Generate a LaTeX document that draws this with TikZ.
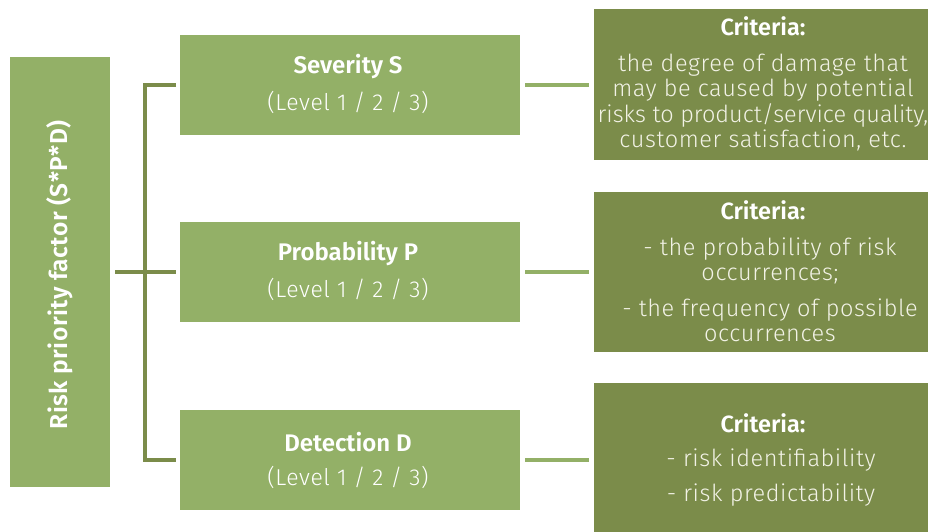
\documentclass[tikz,border=0pt]{standalone}
\usepackage{fontspec}
\setmainfont{Fira Sans Light}[BoldFont=Fira Sans SemiBold]
\newfontfamily\spacedlight{Fira Sans Light}[LetterSpace=2.5]
\newfontfamily\plainlight{Fira Sans Light}
\newfontfamily\spacedbold{Fira Sans SemiBold}[LetterSpace=2]
\definecolor{lgreen}{HTML}{93B067}
\definecolor{dgreen}{HTML}{7B8C4A}
\definecolor{paletext}{HTML}{F2F2E6}
\begin{document}
\begin{tikzpicture}[x=1pt,y=-1pt,
  lightbox/.style={fill=lgreen, draw=none, anchor=north west, inner sep=0pt},
  darkbox/.style={fill=dgreen, draw=none, anchor=north west, inner sep=0pt},
  boxtitle/.style={text=white, font=\bfseries\fontsize{24}{28}\selectfont},
  boxsub/.style={text=white, font=\spacedlight\fontsize{23}{28}\selectfont},
  crittitle/.style={text=white, font=\bfseries\fontsize{23.5}{28}\selectfont},
  critbody/.style={text=paletext, align=center, font=\spacedlight\fontsize{23.5}{25.5}\selectfont},
  bracket/.style={draw=dgreen, line width=4pt},
  link/.style={draw=lgreen, line width=4pt}]
\useasboundingbox (0,0) rectangle (928,532);
\fill[white] (0,0) rectangle (928,532);

% left: overall factor
\node[lightbox, minimum width=100pt, minimum height=430pt] (rpf) at (10,57) {};
\node[rotate=90, text=white, font=\spacedbold\fontsize{24.5}{28}\selectfont] (rpflabel) at (60,275) {Risk priority factor (S*P*D)};

% middle: the three factors
\node[lightbox, minimum width=340pt, minimum height=100pt] (sev) at (180,35) {};
\node[lightbox, minimum width=340pt, minimum height=100pt] (prob) at (180,222) {};
\node[lightbox, minimum width=340pt, minimum height=100pt] (det) at (180,410) {};
\node[boxtitle] (sevt) at (348,67) {Severity S};
\node[boxsub] (sevs) at (348,102) {(Level 1 / 2 / 3)};
\node[boxtitle] (probt) at (348,254) {Probability P};
\node[boxsub] (probs) at (348,289) {(Level 1 / 2 / 3)};
\node[boxtitle] (dett) at (348,442) {Detection D};
\node[boxsub] (dets) at (348,477) {(Level 1 / 2 / 3)};

% right: criteria
\node[darkbox, minimum width=334pt, minimum height=151pt] (crit1) at (594,9) {};
\node[darkbox, minimum width=334pt, minimum height=160pt] (crit2) at (594,192) {};
\node[darkbox, minimum width=334pt, minimum height=149pt] (crit3) at (594,383) {};

\node[crittitle] (c1t) at (763,26) {Criteria:};
\node[critbody] (c1b) at (763,102.5) {the degree of damage that\\may be caused by potential\\{\plainlight risks to product/service quality,}\\customer satisfaction, etc.};
\node[crittitle] (c2t) at (763,210) {Criteria:};
\node[critbody] (c2b) at (770,290) {- the probability of risk\\occurrences;\\[10pt]- the frequency of possible\\occurrences};
\node[crittitle] (c3t) at (763,423) {Criteria:};
\node[critbody, font=\spacedlight\fontsize{23.5}{35}\selectfont] (c3b) at (771,477.5) {- risk identifiability\\- risk predictability};

% connectors
\coordinate (bx) at (145,272);
\draw[bracket] ([xshift=-4pt]sev.west) -| (bx) |- ([xshift=-4pt]det.west);
\draw[bracket] ([xshift=5pt]rpf.east |- prob.west) -- ([xshift=-4pt]prob.west);
\draw[link] ([xshift=5pt]sev.east) -- ([xshift=-5pt]sev.east -| crit1.west);
\draw[link] ([xshift=5pt]prob.east) -- ([xshift=-5pt]prob.east -| crit2.west);
\draw[link] ([xshift=5pt]det.east) -- ([xshift=-5pt]det.east -| crit3.west);
\end{tikzpicture}
\end{document}
